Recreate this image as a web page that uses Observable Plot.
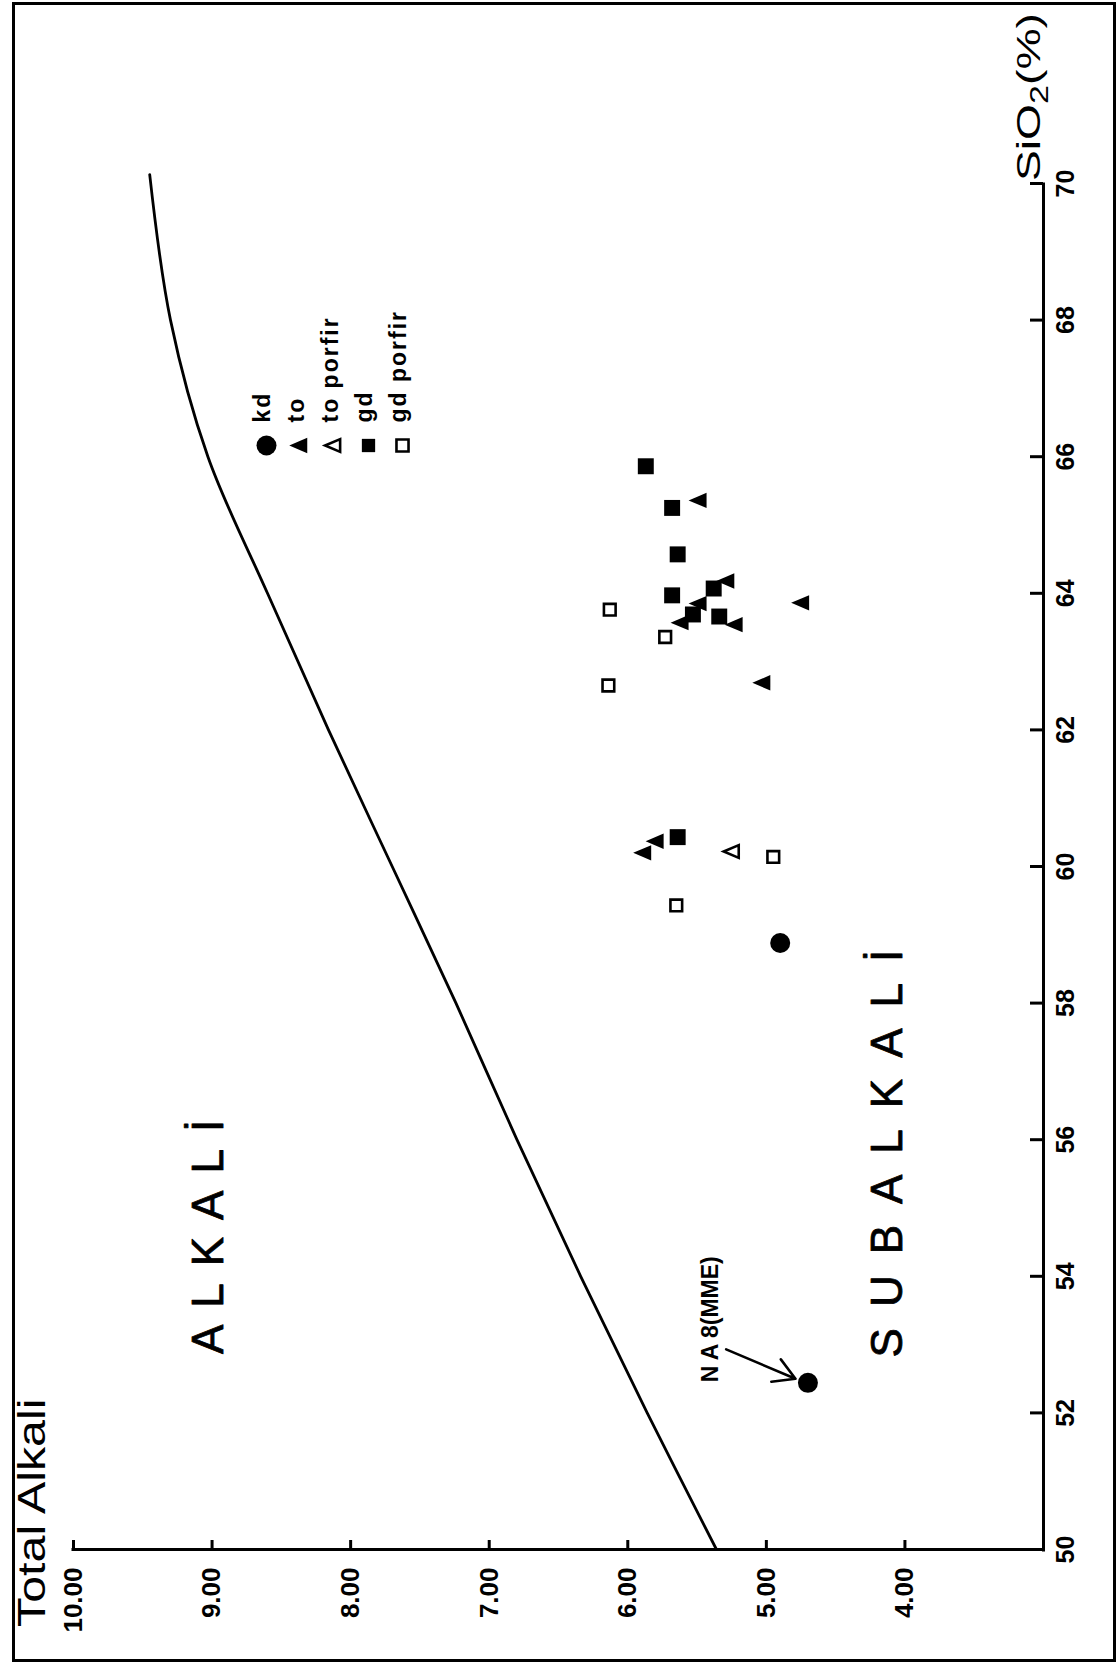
<!DOCTYPE html>
<html>
<head>
<meta charset="utf-8">
<script src="https://cdn.jsdelivr.net/npm/d3@7"></script>
<script src="https://cdn.jsdelivr.net/npm/@observablehq/plot@0.6"></script>
<style>
html, body { margin: 0; padding: 0; background: #fff; }
#page { position: relative; width: 1119px; height: 1668px; overflow: hidden; background: #fff; }
#frame { position: absolute; left: 12px; top: 2px; width: 1104px; height: 1660px; border: 3px solid #000; box-sizing: border-box; }
#rot { position: absolute; left: 0; top: 0; width: 1668px; height: 1119px; transform-origin: 0 0; transform: translate(0px, 1668px) rotate(-90deg); }
#rot > * { position: absolute; }
#ytitle { left: 41px; top: 12px; font: 39px "Liberation Sans", Arial, sans-serif; line-height: 1; white-space: nowrap; transform-origin: 0 0; transform: scaleX(1.24); color: #000; }
#xtitle { left: 1487px; top: 1011px; font: 34px "Liberation Sans", Arial, sans-serif; line-height: 1; white-space: nowrap; transform-origin: 0 0; transform: scaleX(1.36); color: #000; }
#xtitle sub { font-size: 25px; vertical-align: -8px; }
</style>
</head>
<body>
<div id="page">
  <div id="frame"></div>
  <div id="rot">
    <div id="ytitle">Total Alkali</div>
    <div id="xtitle">SiO<sub>2</sub>(%)</div>
  </div>
</div>
<script>
// ---- data ----
const siTicks = [50, 52, 54, 56, 58, 60, 62, 64, 66, 68, 70];
const alkTicks = [4, 5, 6, 7, 8, 9, 10];

// alkaline / subalkaline boundary
const curveSiO2 = [50, 52, 54, 56, 58, 60, 62, 64, 66, 68, 70.13];
const curveAlk  = [5.36, 5.86, 6.34, 6.80, 7.24, 7.70, 8.16, 8.60, 9.03, 9.30, 9.45];

// kd (filled circle)
const kdSiO2 = [58.88, 52.44];
const kdAlk  = [4.90, 4.70];
// to (filled triangle)
const toSiO2 = [65.36, 64.18, 63.85, 63.57, 63.54, 63.86, 62.69, 60.20, 60.37];
const toAlk  = [5.48, 5.28, 5.48, 5.61, 5.22, 4.74, 5.02, 5.88, 5.79];
// to porfir (open triangle)
const toPorfirSiO2 = [60.22];
const toPorfirAlk  = [5.24];
// gd (filled square)
const gdSiO2 = [65.86, 65.25, 64.57, 64.07, 63.97, 63.69, 63.66, 60.43];
const gdAlk  = [5.87, 5.68, 5.64, 5.38, 5.68, 5.53, 5.34, 5.64];
// gd porfir (open square)
const gdPorfirSiO2 = [63.76, 63.36, 62.65, 60.14, 59.43];
const gdPorfirAlk  = [6.13, 5.73, 6.14, 4.95, 5.65];

const legendLabels = ["kd", "to", "to porfir", "gd", "gd porfir"];
const regionLabels = ["ALKALİ", "SUBALKALİ"];
const regionSiO2 = [54.70, 55.95];
const regionAlk  = [8.92, 4.02];
const regionSpacing = ["17px", "21px"];
const sampleLabel = "N A 8(MME)";
const sampleLabelSiO2 = 53.37, sampleLabelAlk = 5.35;
const arrowFrom = [52.93, 5.29];
const arrowTo   = [52.50, 4.79];

// ---- helpers ----
const zip = (xs, ys) => xs.map((x, i) => ({si: x, alk: ys[i]}));
// isosceles triangle (apex up in the unrotated frame)
const tri = {
  draw(ctx, size) {
    const k = Math.sqrt(size / Math.PI);
    ctx.moveTo(0, -1.25 * k);
    ctx.lineTo(0.85 * k, 0.75 * k);
    ctx.lineTo(-0.85 * k, 0.75 * k);
    ctx.closePath();
  }
};
const FONT = "'Liberation Sans', Arial, sans-serif";

const chart = Plot.plot({
  width: 1668, height: 1119,
  marginLeft: 118, marginRight: 184, marginTop: 73, marginBottom: 76,
  x: {domain: [50, 70], label: null},
  y: {domain: [3, 10], label: null},
  style: {fontFamily: FONT, background: "none", color: "#000", overflow: "visible"},
  marks: [
    Plot.ruleY([3], {strokeWidth: 3, strokeLinecap: "square"}),
    Plot.ruleX([50], {strokeWidth: 3, strokeLinecap: "square"}),
    Plot.axisX({ticks: siTicks, tickSize: -13, tickPadding: 26, strokeWidth: 3, fontSize: 25, fontWeight: "bold", tickFormat: d => String(d), label: null}),
    Plot.axisY({ticks: alkTicks, tickSize: -10, tickPadding: 28, strokeWidth: 3, fontSize: 26, fontWeight: "bold", tickFormat: d => d.toFixed(2), label: null}),
    Plot.line(zip(curveSiO2, curveAlk), {x: "si", y: "alk", curve: "catmull-rom", strokeWidth: 2.8}),
    Plot.dot(zip(kdSiO2, kdAlk), {x: "si", y: "alk", symbol: "circle", r: 10, fill: "#000"}),
    Plot.dot(zip(toSiO2, toAlk), {x: "si", y: "alk", symbol: tri, r: 9, fill: "#000"}),
    Plot.dot(zip(toPorfirSiO2, toPorfirAlk), {x: "si", y: "alk", symbol: tri, r: 7.5, fill: "#fff", stroke: "#000", strokeWidth: 2.6}),
    Plot.dot(zip(gdSiO2, gdAlk), {x: "si", y: "alk", symbol: "square", r: 9, fill: "#000"}),
    Plot.dot(zip(gdPorfirSiO2, gdPorfirAlk), {x: "si", y: "alk", symbol: "square", r: 6.6, fill: "#fff", stroke: "#000", strokeWidth: 2.6}),
    Plot.text(regionLabels, {x: (d, i) => regionSiO2[i], y: (d, i) => regionAlk[i], text: d => d, fontSize: 44, lineAnchor: "bottom", textAnchor: "middle", fill: "#000", stroke: "#000", strokeWidth: 0.8}),
    Plot.text([sampleLabel], {x: sampleLabelSiO2, y: sampleLabelAlk, text: d => d, fontSize: 23, fontWeight: "bold", lineAnchor: "bottom", textAnchor: "middle", fill: "#000"}),
    Plot.arrow([0], {x1: () => arrowFrom[0], y1: () => arrowFrom[1], x2: () => arrowTo[0], y2: () => arrowTo[1], strokeWidth: 2.6, headLength: 14})
  ]
});
d3.select(chart).selectAll("text").each(function() {
  const i = regionLabels.indexOf(this.textContent);
  if (i >= 0) this.style.letterSpacing = regionSpacing[i];
});

const legend = Plot.plot({
  width: 260, height: 430,
  marginLeft: 32, marginRight: 0, marginTop: 265, marginBottom: 28,
  y: {type: "point", domain: legendLabels, padding: 0, axis: null},
  style: {fontFamily: FONT, background: "none", color: "#000", overflow: "visible", letterSpacing: "2px"},
  marks: [
    Plot.dot([legendLabels[0]], {y: d => d, frameAnchor: "left", symbol: "circle", r: 10, fill: "#000"}),
    Plot.dot([legendLabels[1]], {y: d => d, frameAnchor: "left", symbol: tri, r: 9, fill: "#000"}),
    Plot.dot([legendLabels[2]], {y: d => d, frameAnchor: "left", symbol: tri, r: 7.5, fill: "#fff", stroke: "#000", strokeWidth: 2.6}),
    Plot.dot([legendLabels[3]], {y: d => d, frameAnchor: "left", symbol: "square", r: 7.5, fill: "#000"}),
    Plot.dot([legendLabels[4]], {y: d => d, frameAnchor: "left", symbol: "square", r: 6.8, fill: "#fff", stroke: "#000", strokeWidth: 2.6}),
    Plot.text(legendLabels, {y: d => d, text: d => d, frameAnchor: "left", dx: 23, dy: 3, textAnchor: "start", lineAnchor: "bottom", fontSize: 23, fontWeight: "bold", fill: "#000"})
  ]
});

const rot = document.getElementById("rot");
chart.style.left = "0px"; chart.style.top = "0px";
legend.style.left = "1190px"; legend.style.top = "0px";
rot.insertBefore(chart, rot.firstChild);
rot.appendChild(legend);
</script>
</body>
</html>
